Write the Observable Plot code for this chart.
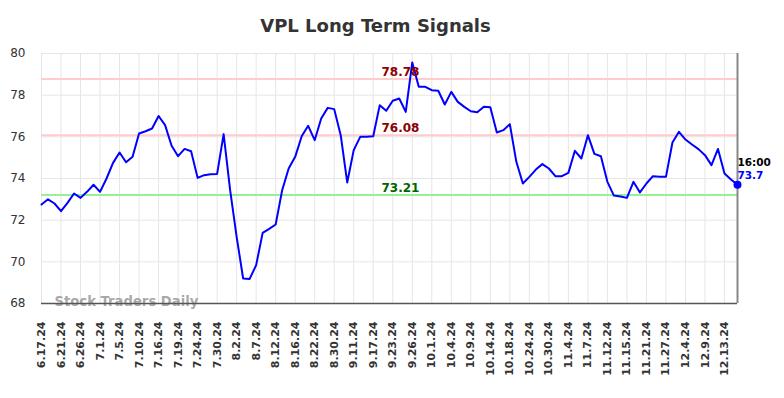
<!DOCTYPE html>
<html>
<head>
<meta charset="utf-8">
<script src="https://cdn.jsdelivr.net/npm/d3@7"></script>
<script src="https://cdn.jsdelivr.net/npm/@observablehq/plot@0.6"></script>
<style>
  html, body { margin: 0; padding: 0; background: #fff; }
  #chart svg { display: block; }
</style>
</head>
<body>
<div id="chart"></div>
<script>
const title = "VPL Long Term Signals";
const watermark = "Stock Traders Daily";
const lastTime = "16:00";

const dateLabels = [
  "6.17.24","6.21.24","6.26.24","7.1.24","7.5.24","7.10.24","7.16.24","7.19.24","7.24.24","7.30.24",
  "8.2.24","8.7.24","8.12.24","8.16.24","8.22.24","8.30.24","9.11.24","9.17.24","9.23.24","9.26.24",
  "10.1.24","10.4.24","10.9.24","10.14.24","10.18.24","10.24.24","10.30.24","11.4.24","11.7.24","11.12.24",
  "11.15.24","11.21.24","11.27.24","12.4.24","12.9.24","12.13.24"
];
const pointsPerLabel = 3;

const prices = [
  72.75, 73.0, 72.8, 72.43, 72.83, 73.28, 73.07, 73.36, 73.7, 73.36,
  74.0, 74.75, 75.25, 74.78, 75.04, 76.16, 76.27, 76.4, 77.0, 76.56,
  75.57, 75.07, 75.42, 75.31, 74.03, 74.16, 74.2, 74.22,
  76.13, 73.44, 71.2, 69.2, 69.18, 69.84, 71.39, 71.58, 71.79, 73.44,
  74.48, 75.04, 76.03, 76.53, 75.84, 76.88, 77.39, 77.33, 76.08, 73.81,
  75.36, 76.0, 76.0, 76.03, 77.52, 77.25,
  77.73, 77.84, 77.2, 79.57, 78.4, 78.4, 78.24, 78.21, 77.55, 78.16,
  77.68, 77.44, 77.23, 77.18, 77.44, 77.42, 76.21, 76.32, 76.61, 74.8,
  73.76, 74.08, 74.43, 74.69, 74.48, 74.11, 74.11, 74.27,
  75.33, 74.96, 76.08, 75.18, 75.07, 73.84, 73.18, 73.14, 73.07, 73.84,
  73.33, 73.76, 74.11, 74.08, 74.08, 75.73, 76.24, 75.87, 75.63, 75.41,
  75.12, 74.64, 75.42, 74.24, 73.95, 73.7
];

const signalLevels = [78.78, 76.08, 73.21];
const signalKinds = ["high", "high", "low"];
const yTicks = [68, 70, 72, 74, 76, 78, 80];

const series = prices.map((v, i) => ({i, v}));
const tickIdx = dateLabels.map((_, k) => k * pointsPerLabel);
const labelAt = new Map(tickIdx.map((t, k) => [t, dateLabels[k]]));
const levels = signalLevels.map((v, k) => ({v, kind: signalKinds[k]}));
const lastI = prices.length - 1;
const last = [{i: lastI, v: prices[lastI]}];
const midX = lastI / 2;

const lineColor = {high: "#ffcccc", low: "#99ee99"};
const textColor = {high: "#8b0000", low: "#006400"};

const chart = Plot.plot({
  width: 784,
  height: 398,
  marginLeft: 41,
  marginRight: 47,
  marginTop: 53,
  marginBottom: 95,
  style: {fontFamily: "DejaVu Sans", background: "#fff", overflow: "visible"},
  x: {domain: [0, lastI], label: null},
  y: {domain: [68, 80], label: null},
  marks: [
    Plot.gridX(tickIdx, {stroke: "#e6e6e6", strokeOpacity: 1}),
    Plot.gridY(yTicks, {stroke: "#e6e6e6", strokeOpacity: 1}),
    Plot.ruleY(levels, {y: "v", stroke: d => lineColor[d.kind], strokeWidth: 2}),
    Plot.text([watermark], {frameAnchor: "bottom-left", dx: 13, dy: -2, textAnchor: "start", lineAnchor: "middle",
      fontSize: 13.2, fontWeight: "bold", fill: "#999", fillOpacity: 0.85}),
    Plot.ruleY([68], {stroke: "#555", strokeWidth: 1.5}),
    Plot.ruleX([lastI], {stroke: "#888", strokeWidth: 2}),
    Plot.line(series, {x: "i", y: "v", stroke: "#0000ff", strokeWidth: 2}),
    Plot.dot(last, {x: "i", y: "v", r: 4, fill: "#0000ff"}),
    Plot.text(levels, {x: () => midX, y: "v", text: d => d.v.toFixed(2), dx: 11, dy: -3, lineAnchor: "bottom",
      fill: d => textColor[d.kind], fontSize: 12, fontWeight: "bold"}),
    Plot.text(last, {x: "i", y: "v", text: () => lastTime, dy: -19, textAnchor: "start", lineAnchor: "bottom",
      fill: "#000", fontSize: 10.5, fontWeight: "bold"}),
    Plot.text(last, {x: "i", y: "v", text: d => String(d.v), dy: -6, textAnchor: "start", lineAnchor: "bottom",
      fill: "#0000ff", fontSize: 10.5, fontWeight: "bold"}),
    Plot.text([title], {frameAnchor: "top", dy: -27, dx: -14, lineAnchor: "middle",
      fontSize: 18, fontWeight: "bold", fill: "#333"}),
    Plot.axisY(yTicks, {tickSize: 0, tickPadding: 16, fontSize: 12, fill: "#333", label: null}),
    Plot.axisX(tickIdx, {tickSize: 0, tickPadding: 18, tickRotate: -90, tickFormat: d => labelAt.get(d),
      fontSize: 11, fontWeight: "bold", fill: "#333", label: null})
  ]
});
document.getElementById("chart").appendChild(chart);
</script>
</body>
</html>
